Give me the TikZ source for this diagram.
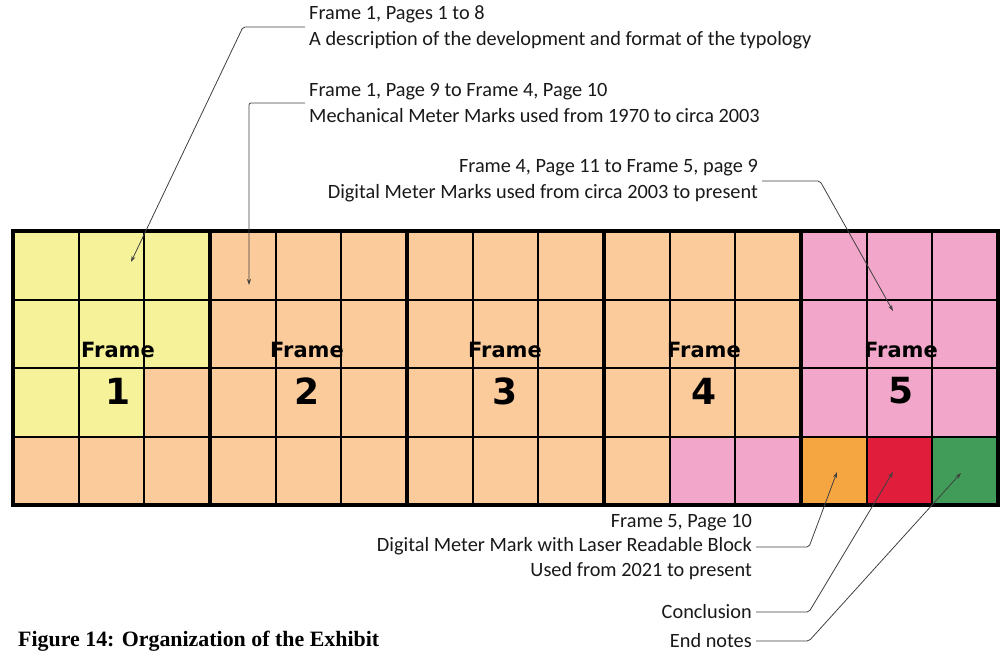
\documentclass[tikz,border=0pt]{standalone}
\usepackage{fontspec}
\setmainfont{Carlito}
\newfontfamily\framefont{DejaVu Sans}
\newfontfamily\captionfont{Liberation Serif}
\usetikzlibrary{arrows.meta}

\definecolor{pageyellow}{RGB}{246,242,154}
\definecolor{pagepeach}{RGB}{251,203,155}
\definecolor{pagepink}{RGB}{242,166,201}
\definecolor{pageorange}{RGB}{245,166,65}
\definecolor{pagered}{RGB}{224,30,60}
\definecolor{pagegreen}{RGB}{64,156,88}

\begin{document}
\begin{tikzpicture}[x=1pt,y=-1pt,
  note/.style={font=\fontsize{20.3}{26}\selectfont, text=black!90, inner sep=4pt},
  leader/.style={draw=black!75, line width=0.8pt, rounded corners=2pt, -{Stealth[length=6pt,width=4pt]}},
  framelabel/.style={font=\framefont\bfseries\fontsize{21}{21}\selectfont},
  framenum/.style={font=\framefont\bfseries\fontsize{36}{36}\selectfont}]
\useasboundingbox (0,0) rectangle (1001,653);

\begin{scope}[shift={(13,231)}, x=65.67pt, y=-68.5pt]
\fill[pagepeach] (0,0) rectangle (15,4);
\fill[pageyellow] (0,0) rectangle (3,2);
\fill[pageyellow] (0,2) rectangle (2,3);
\fill[pagepink] (12,0) rectangle (15,3);
\fill[pagepink] (10,3) rectangle (12,4);
\fill[pageorange] (12,3) rectangle (13,4);
\fill[pagered] (13,3) rectangle (14,4);
\fill[pagegreen] (14,3) rectangle (15,4);
\foreach \c in {1,...,14}
  \draw[line width=2pt] (\c,0) -- (\c,4);
\foreach \r in {1,2,3}
  \draw[line width=2pt] (0,\r) -- (15,\r);
\foreach \f in {1,...,4}
  \draw[line width=4.5pt] (3*\f,0) -- (3*\f,4);
\draw[line width=4.5pt] (0,0) rectangle (15,4);
\end{scope}

\foreach \x/\n in {118/1,307/2,505/3,704/4,901/5} {
  \node[framelabel] (label\n) at (\x,350) {Frame};
  \node[framenum] (number\n) at (\x,391) {\n};
}

\node[note, anchor=west, align=left] (intro) at (305,27)
  {Frame 1, Pages 1 to 8\\A description of the development and format of the typology};
\node[note, anchor=west, align=left] (mechanical) at (305,103)
  {Frame 1, Page 9 to Frame 4, Page 10\\Mechanical Meter Marks used from 1970 to circa 2003};
\node[note, anchor=east, align=right] (digital) at (762,181)
  {Frame 4, Page 11 to Frame 5, page 9\\Digital Meter Marks used from circa 2003 to present};
\node[note, anchor=east, align=right, font=\fontsize{20.3}{24.5}\selectfont] (laser) at (756,547)
  {Frame 5, Page 10\\Digital Meter Mark with Laser Readable Block\\Used from 2021 to present};
\node[note, anchor=east] (conclusion) at (756,612) {Conclusion};
\node[note, anchor=east] (endnotes) at (756,641) {End notes};

\coordinate (introbend) at (243,27);
\coordinate (introtip) at (131,262);
\coordinate (mechbend) at (249,103);
\coordinate (mechtip) at (249,285);
\coordinate (digbend) at (820,181);
\coordinate (digtip) at (893,311);
\coordinate (laserbend) at (809,547);
\coordinate (lasertip) at (837,472);
\coordinate (concbend) at (809,612);
\coordinate (conctip) at (893,472);
\coordinate (endbend) at (809,641);
\coordinate (endtip) at (961,473);

\draw[leader] (intro.west) -- (introbend) -- (introtip);
\draw[leader] (mechanical.west) -- (mechbend) -- (mechtip);
\draw[leader] (digital.east) -- (digbend) -- (digtip);
\draw[leader] (laser.east) -- (laserbend) -- (lasertip);
\draw[leader] (conclusion.east) -- (concbend) -- (conctip);
\draw[leader] (endnotes.east) -- (endbend) -- (endtip);

\node[anchor=base west, inner sep=0pt, font=\captionfont\bfseries\fontsize{21.9}{21.9}\selectfont] (caption) at (18,646)
  {Figure 14: Organization of the Exhibit};
\end{tikzpicture}
\end{document}
